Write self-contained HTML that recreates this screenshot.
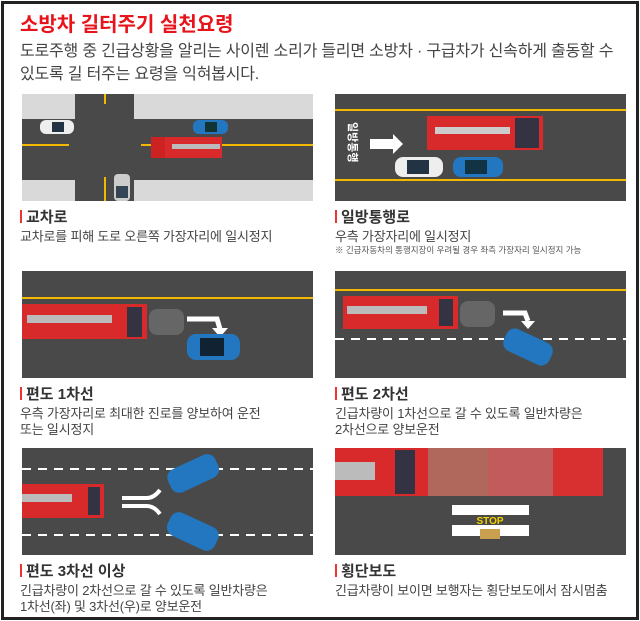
<!DOCTYPE html>
<html><head><meta charset="utf-8"><style>
*{margin:0;padding:0;box-sizing:border-box}
body{width:640px;height:621px;background:#fff;position:relative;overflow:hidden;font-family:"Liberation Sans","Noto Sans CJK KR",sans-serif;}
.frame{position:absolute;left:1px;top:1px;width:638px;height:619px;border:3px solid #222;}
.t{position:absolute;white-space:nowrap;}
.h{font-size:15px;font-weight:bold;color:#333;}
.h:before{content:"";display:inline-block;width:2px;height:13px;background:#e33;margin-right:4px;vertical-align:-1px}
.d{font-size:13px;color:#444;letter-spacing:-0.2px}
svg{position:absolute}
</style></head><body>
<div class="frame"></div>
<div class="t" style="left:20px;top:8px;font-size:20px;font-weight:bold;color:#e8141b">소방차 길터주기 실천요령</div>
<div class="t" style="left:20px;top:37px;font-size:16px;color:#444;letter-spacing:-0.2px">도로주행 중 긴급상황을 알리는 사이렌 소리가 들리면 소방차 · 구급차가 신속하게 출동할 수</div>
<div class="t" style="left:20px;top:60px;font-size:16px;color:#444;letter-spacing:-0.2px">있도록 길 터주는 요령을 익혀봅시다.</div>

<!-- panel 1 -->
<svg style="left:22px;top:94px" width="291" height="107">
<rect width="291" height="107" fill="#d9d9d9"/>
<rect y="25" width="291" height="61" fill="#4a4949"/><rect x="53" width="59" height="107" fill="#4a4949"/>
<rect x="0" y="50" width="47" height="2" fill="#f3b800"/><rect x="119" y="50" width="172" height="2" fill="#f3b800"/>
<rect x="82" y="0" width="2" height="10" fill="#f3b800"/><rect x="82" y="83" width="2" height="24" fill="#f3b800"/>
<rect x="18" y="26" width="34" height="14" rx="6" fill="#eee"/><rect x="30" y="28" width="12" height="10" fill="#234"/>
<rect x="171" y="26" width="35" height="14" rx="6" fill="#2277c0"/><rect x="183" y="28" width="12" height="10" fill="#133"/>
<rect x="129" y="43" width="71" height="21" fill="#d82a2a"/><rect x="129" y="43" width="14" height="21" fill="#c22"/><rect x="150" y="50" width="48" height="5" fill="#bbb"/>
<rect x="92" y="80" width="16" height="27" rx="4" fill="#ccc"/><rect x="94" y="92" width="12" height="12" fill="#345"/>
</svg>
<!-- panel 2 -->
<svg style="left:335px;top:94px" width="291" height="107">
<rect width="291" height="107" fill="#4a4949"/>
<rect y="15" width="291" height="2" fill="#f3b800"/><rect y="85" width="291" height="2" fill="#f3b800"/>
<text x="14" y="28" font-size="11" fill="#fff" font-weight="bold" font-family="Noto Sans CJK KR" transform="rotate(90 14 28)">일방통행</text>
<polygon points="35,45 58,45 58,40 68,50 58,60 58,55 35,55" fill="#fff"/>
<rect x="92" y="22" width="116" height="34" fill="#d82a2a"/><rect x="100" y="33" width="75" height="7" fill="#ccc"/><rect x="180" y="24" width="24" height="30" fill="#334"/>
<rect x="60" y="63" width="48" height="20" rx="8" fill="#eee"/><rect x="72" y="66" width="22" height="14" fill="#234"/>
<rect x="118" y="63" width="50" height="20" rx="8" fill="#2277c0"/><rect x="130" y="66" width="22" height="14" fill="#134"/>
</svg>
<div class="t h" style="left:20px;top:206px">교차로</div>
<div class="t d" style="left:20px;top:226px">교차로를 피해 도로 오른쪽 가장자리에 일시정지</div>
<div class="t h" style="left:335px;top:206px">일방통행로</div>
<div class="t d" style="left:335px;top:226px">우측 가장자리에 일시정지</div>
<div class="t" style="left:335px;top:244px;font-size:8.5px;color:#555">※ 긴급자동차의 통행지장이 우려될 경우 좌측 가장자리 일시정지 가능</div>

<!-- row2 left -->
<svg style="left:22px;top:271px" width="291" height="107">
<rect width="291" height="107" fill="#4a4949"/><rect y="26" width="291" height="2" fill="#f3b800"/>
<rect x="0" y="33" width="125" height="35" fill="#d82a2a"/><rect x="5" y="44" width="85" height="8" fill="#bbb"/><rect x="105" y="36" width="15" height="30" fill="#334"/>
<rect x="127" y="38" width="35" height="26" rx="8" fill="#666"/>
<path d="M165 48 H195 L198 58" stroke="#fff" stroke-width="5" fill="none"/><polygon points="190,57 206,57 198,66" fill="#fff"/>
<rect x="165" y="63" width="53" height="26" rx="9" fill="#2277c0"/><rect x="178" y="67" width="24" height="18" fill="#123"/>
</svg>
<!-- row2 right -->
<svg style="left:335px;top:271px" width="291" height="107">
<rect width="291" height="107" fill="#4a4949"/><rect y="18" width="291" height="2" fill="#f3b800"/>
<line x1="0" y1="68" x2="291" y2="68" stroke="#fff" stroke-width="2" stroke-dasharray="9 7"/>
<rect x="8" y="25" width="115" height="33" fill="#d82a2a"/><rect x="12" y="35" width="80" height="8" fill="#bbb"/><rect x="104" y="28" width="14" height="27" fill="#334"/>
<rect x="125" y="30" width="35" height="26" rx="8" fill="#666"/>
<path d="M168 42 H190 L193 50" stroke="#fff" stroke-width="5" fill="none"/><polygon points="186,50 200,50 193,58" fill="#fff"/>
<rect x="168" y="64" width="50" height="24" rx="9" fill="#2277c0" transform="rotate(25 193 76)"/>
</svg>
<div class="t h" style="left:20px;top:383px">편도 1차선</div>
<div class="t d" style="left:20px;top:403px">우측 가장자리로 최대한 진로를 양보하여 운전</div>
<div class="t d" style="left:20px;top:419px">또는 일시정지</div>
<div class="t h" style="left:335px;top:383px">편도 2차선</div>
<div class="t d" style="left:335px;top:403px">긴급차량이 1차선으로 갈 수 있도록 일반차량은</div>
<div class="t d" style="left:335px;top:419px">2차선으로 양보운전</div>

<!-- row3 left -->
<svg style="left:22px;top:448px" width="291" height="107">
<rect width="291" height="107" fill="#4a4949"/>
<line x1="0" y1="21" x2="291" y2="21" stroke="#fff" stroke-width="2" stroke-dasharray="9 7"/>
<line x1="0" y1="87" x2="291" y2="87" stroke="#fff" stroke-width="2" stroke-dasharray="9 7"/>
<rect x="0" y="36" width="82" height="34" fill="#d82a2a"/><rect x="0" y="46" width="50" height="8" fill="#bbb"/><rect x="66" y="39" width="12" height="28" fill="#334"/>
<path d="M100 50 H125 Q132 50 138 42" stroke="#fff" stroke-width="4" fill="none"/>
<path d="M100 58 H125 Q132 58 138 66" stroke="#fff" stroke-width="4" fill="none"/>
<rect x="145" y="13" width="52" height="25" rx="9" fill="#2277c0" transform="rotate(-25 171 25)"/>
<rect x="145" y="71" width="52" height="25" rx="9" fill="#2277c0" transform="rotate(25 171 83)"/>
</svg>
<!-- row3 right -->
<svg style="left:335px;top:448px" width="291" height="107">
<rect width="291" height="107" fill="#4a4949"/>
<rect x="0" y="0" width="93" height="48" fill="#d82a2a"/><rect x="0" y="14" width="40" height="18" fill="#bbb"/><rect x="60" y="2" width="20" height="44" fill="#334"/>
<rect x="93" y="0" width="60" height="48" fill="#c87060" opacity=".8"/>
<rect x="153" y="0" width="65" height="48" fill="#e06060" opacity=".8"/>
<rect x="218" y="0" width="50" height="48" fill="#d83030"/>
<rect x="117" y="57" width="77" height="10" fill="#fff"/><rect x="117" y="77" width="77" height="11" fill="#fff"/>
<text x="155" y="76" font-size="10" font-weight="bold" fill="#f3d000" text-anchor="middle" font-family="Liberation Sans">STOP</text>
<rect x="145" y="81" width="20" height="10" fill="#c9a050"/>
</svg>
<div class="t h" style="left:20px;top:560px">편도 3차선 이상</div>
<div class="t d" style="left:20px;top:580px">긴급차량이 2차선으로 갈 수 있도록 일반차량은</div>
<div class="t d" style="left:20px;top:596px">1차선(좌) 및 3차선(우)로 양보운전</div>
<div class="t h" style="left:335px;top:560px">횡단보도</div>
<div class="t d" style="left:335px;top:580px">긴급차량이 보이면 보행자는 횡단보도에서 잠시멈춤</div>
</body></html>
